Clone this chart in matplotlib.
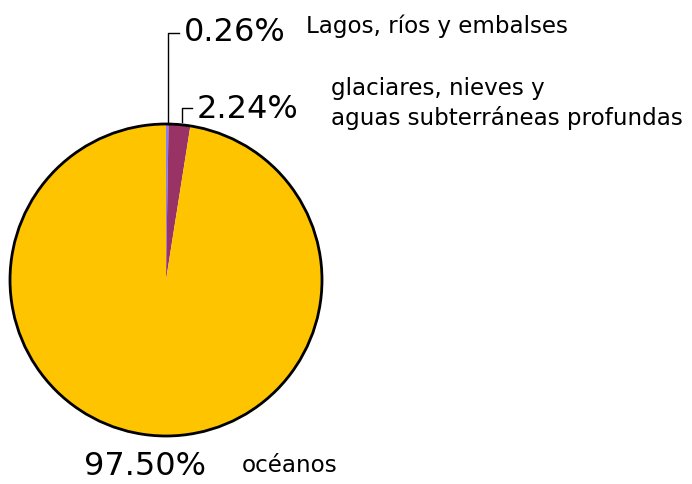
import matplotlib.pyplot as plt
from matplotlib.patches import Circle

plt.rcParams['font.family'] = ['DejaVu Sans']

# distribución del agua en la Tierra
nombres = ["Lagos, ríos y embalses",
           "glaciares, nieves y\naguas subterráneas profundas",
           "océanos"]
porcentajes = [0.26, 2.24, 97.50]
colores = ["#8080ff", "#993366", "#ffc400"]

W, H = 692, 484
fig = plt.figure(figsize=(W / 100, H / 100), dpi=100)
ax = fig.add_axes([0, 0, 1, 1])

cx, cy, r = 166, H - 280, 156
ax.pie(porcentajes, colors=colores, startangle=90, counterclock=False,
       center=(cx, cy), radius=r, frame=True,
       wedgeprops=dict(linewidth=0))
ax.add_patch(Circle((cx, cy), r, fill=False, edgecolor="black", lw=2, zorder=5))
ax.set_xlim(0, W)
ax.set_ylim(0, H)
ax.set_aspect("equal")
ax.axis("off")

def y(p):
    return H - p

# líneas guía
ax.plot([168, 168, 179], [y(124), y(33), y(33)], color="black", lw=1)
ax.plot([182, 182, 192], [y(122), y(108), y(108)], color="black", lw=1)

grande = dict(fontsize=23, va="baseline")
chico = dict(fontsize=16.6, va="baseline")

ax.text(184, y(41), f"{porcentajes[0]:.2f}%", **grande)
ax.text(306, y(33), nombres[0], **chico)

ax.text(197, y(118), f"{porcentajes[1]:.2f}%", **grande)
for i, linea in enumerate(nombres[1].split("\n")):
    ax.text(331, y(95 + 30 * i), linea, **chico)

ax.text(84, y(475), f"{porcentajes[2]:.2f}%", **grande)
ax.text(242, y(472), nombres[2], **chico)

fig.savefig("out.png", dpi=100)
